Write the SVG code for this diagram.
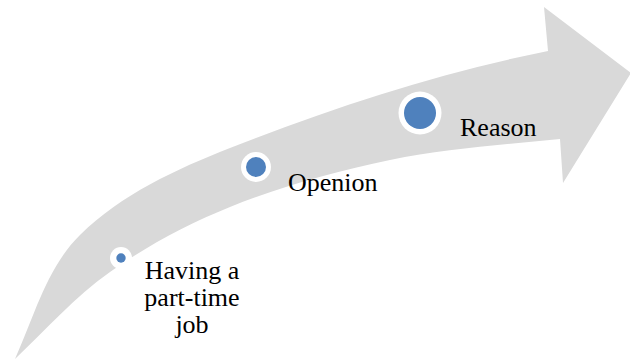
<svg xmlns="http://www.w3.org/2000/svg" width="630" height="360" viewBox="0 0 630 360">
<style>
.lbl{font-family:"Liberation Serif","Times New Roman",serif;font-size:26px;fill:#000}
.ring{fill:#fff}
.dot{fill:#4f81bd}
</style>
<rect width="630" height="360" fill="#fff"/>
<g id="connectors">
<path id="arrow" fill="#d9d9d9" d="M15,359 C34.5,316 46.5,268 80,235 C121.4,194.4 176,169.2 230,148 C333,107.4 439.2,72.8 548,51 L544,7 L631,73 L563,183 L560,139 C503.3,144.7 445.8,148.5 390,160 C335.5,171.3 281.7,186.3 230,207 C187.8,223.9 147.2,245.7 110,272 C75.1,296.6 46,329.6 15,359 Z"/>
</g>
<g id="node-job">
<circle class="ring" cx="121" cy="258" r="11"/>
<circle class="dot" cx="121" cy="258" r="4.7"/>
<text class="lbl" text-anchor="middle"><tspan x="192" y="279">Having a</tspan><tspan x="192" y="306">part-time</tspan><tspan x="192" y="333">job</tspan></text>
</g>
<g id="node-opinion">
<circle class="ring" cx="256" cy="167" r="15"/>
<circle class="dot" cx="256" cy="167" r="10"/>
<text class="lbl" x="288" y="191">Openion</text>
</g>
<g id="node-reason">
<circle class="ring" cx="420" cy="113" r="21.5"/>
<circle class="dot" cx="420" cy="113" r="16"/>
<text class="lbl" x="460" y="136">Reason</text>
</g>
</svg>
